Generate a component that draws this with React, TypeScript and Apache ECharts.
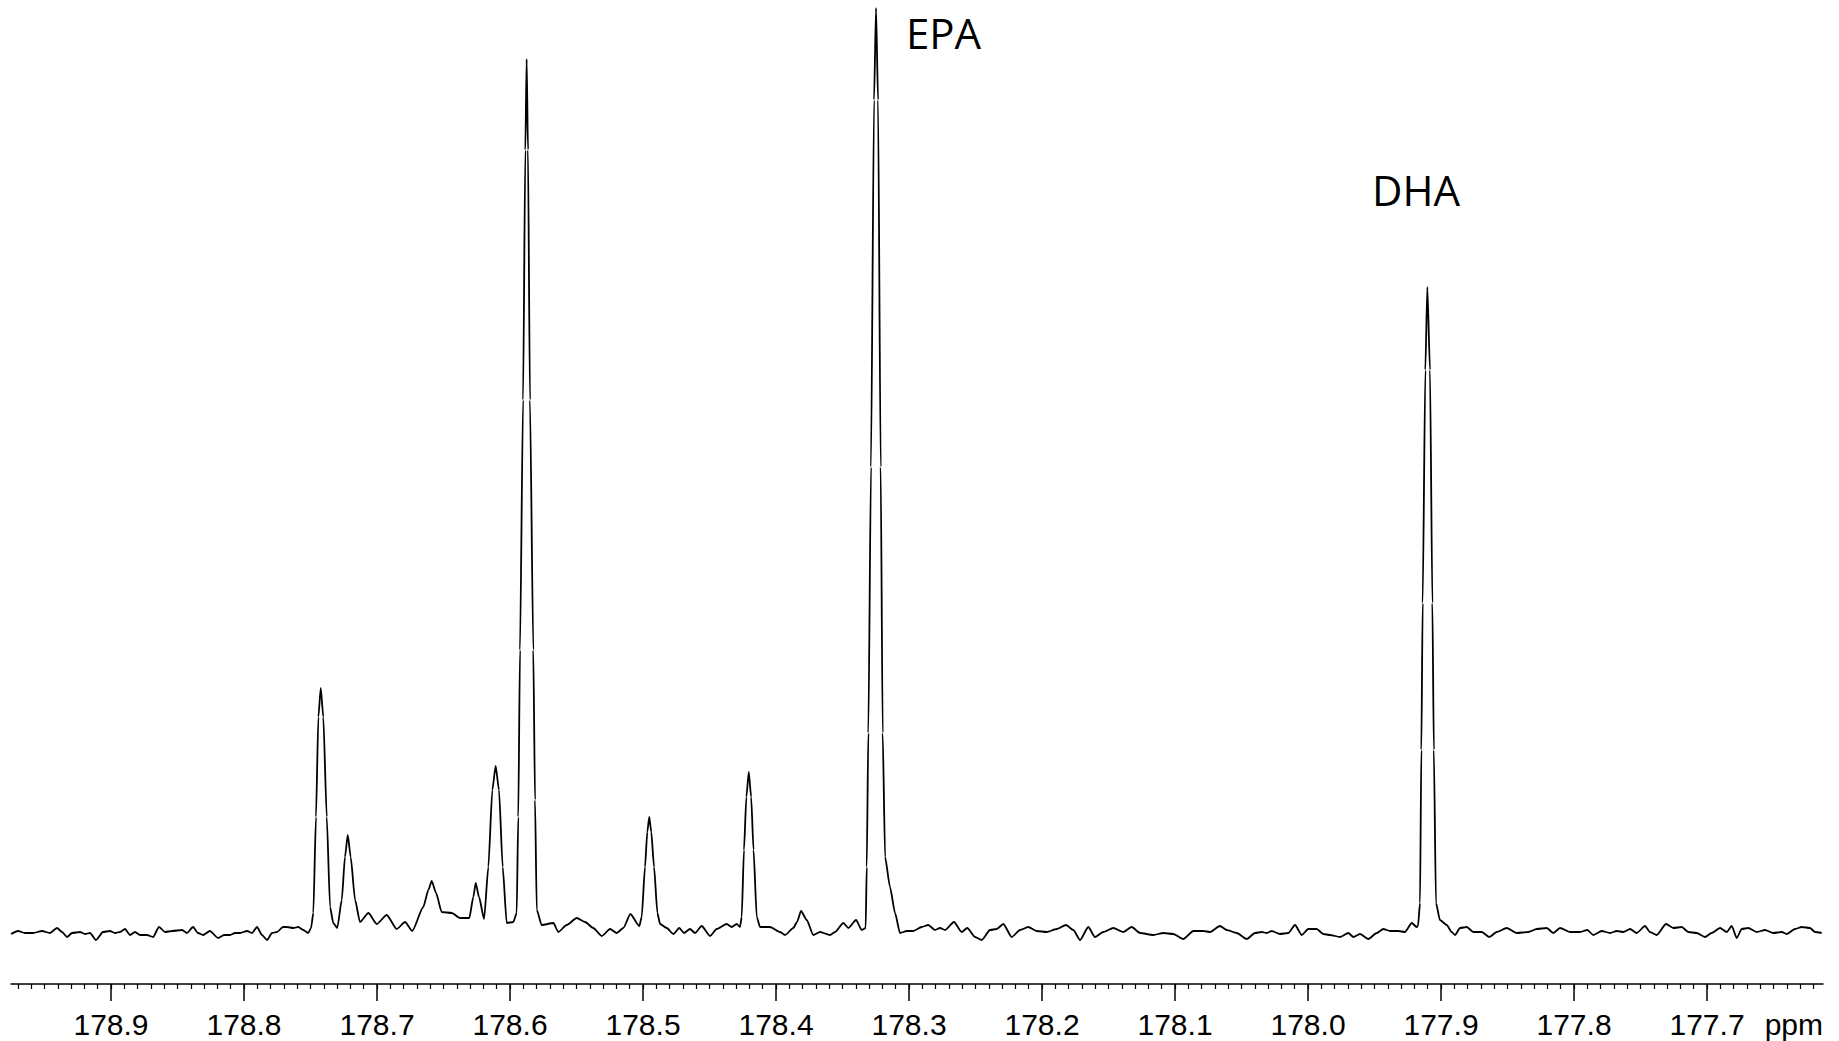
import React, { useEffect, useRef } from "react";
import * as echarts from "echarts";

// [chemical shift (ppm), intensity (a.u.)]
const leftBaseline: [number, number][] = [
  [178.9752, -2], [178.9699, 1], [178.9647, -1], [178.9586, -1], [178.9519, 1], [178.9459, -1],
  [178.9406, 4], [178.9368, 0], [178.9331, -5], [178.9293, -1], [178.9233, 0], [178.9195, -2],
  [178.9158, -1], [178.9113, -8], [178.906, 0], [178.9008, 1], [178.897, -1], [178.8932, 0],
  [178.8895, 3], [178.8857, -3], [178.882, 0], [178.8782, -3], [178.8729, -3], [178.8684, -5],
  [178.8639, 5], [178.8594, 0], [178.8541, 1], [178.8466, 2], [178.8429, -1], [178.8383, 5],
  [178.8346, -1], [178.8308, -3], [178.8256, 1], [178.8195, -6], [178.815, -3], [178.8105, -3],
  [178.8068, -1], [178.803, -1], [178.7977, 1], [178.794, -1], [178.7902, 5], [178.7865, -3],
  [178.7827, -8], [178.7789, -1], [178.7752, 0], [178.7707, 5], [178.7679, 5], [178.7629, 4],
  [178.7592, 5], [178.7554, 2], [178.7517, -1],
];

const peakCluster: [number, number][] = [
  [178.7496, 4], [178.7479, 19], [178.7459, 115], [178.7441, 215], [178.7423, 244], [178.7404, 215],
  [178.7378, 115], [178.7353, 25], [178.7329, 9], [178.7299, 4],
  [178.7265, 32], [178.7241, 75], [178.722, 97], [178.7198, 75], [178.7165, 32], [178.7128, 10],
  [178.7065, 19], [178.7002, 8], [178.6927, 17], [178.6852, 3], [178.6789, 10], [178.6735, 1],
  [178.6652, 25], [178.6614, 42], [178.6589, 51], [178.6556, 39], [178.6514, 20], [178.6438, 19],
  [178.6376, 14], [178.6306, 14],
  [178.6276, 35], [178.6258, 49], [178.6233, 35], [178.6195, 13],
  [178.6163, 65], [178.6133, 142], [178.6108, 166], [178.6083, 142], [178.6055, 65], [178.6025, 9],
  [178.5975, 10], [178.595, 19],
  [178.5938, 115], [178.5925, 282], [178.5902, 532], [178.5885, 782], [178.5875, 873], [178.5865, 782],
  [178.585, 532], [178.5825, 282], [178.5812, 132], [178.5799, 22], [178.5762, 7],
];

const middleRegion: [number, number][] = [
  [178.5674, 9], [178.5637, 0], [178.5574, 7], [178.5498, 14], [178.5436, 10], [178.5374, 4],
  [178.531, -4], [178.5248, 3], [178.5198, -1], [178.5148, 4], [178.5095, 18], [178.5028, 6],
  [178.501, 15], [178.4985, 65], [178.4968, 100], [178.4953, 115], [178.4938, 100], [178.4917, 65],
  [178.4892, 19], [178.4872, 8],
  [178.4822, 4], [178.4772, -2], [178.4727, 4], [178.4692, -1], [178.4647, 3], [178.4609, -1],
  [178.4559, 6], [178.4496, -4], [178.4446, 3], [178.4371, 8], [178.4333, 5], [178.4296, 8], [178.4271, 5],
  [178.4258, 15], [178.4241, 82], [178.4223, 135], [178.4205, 160], [178.4187, 135], [178.4169, 82],
  [178.4145, 15], [178.412, 5],
  [178.4045, 5], [178.397, 0], [178.3932, -3], [178.387, 4], [178.3842, 10], [178.3812, 21],
  [178.3769, 12], [178.372, -3], [178.3669, 0], [178.3594, -3], [178.3556, 0], [178.3494, 9],
  [178.3456, 4], [178.3398, 12], [178.3356, 2],
];

const epaRegion: [number, number][] = [
  [178.3326, 4], [178.3318, 65], [178.3306, 199], [178.3286, 465], [178.3263, 832], [178.3248, 924],
  [178.3233, 832], [178.3213, 465], [178.3198, 199], [178.318, 75], [178.3143, 45], [178.3105, 19],
  [178.3068, -1],
];

const centralBaseline: [number, number][] = [
  [178.3017, 1], [178.2968, 1], [178.2905, 5], [178.2855, 7], [178.2805, 2], [178.2767, 4],
  [178.2729, 2], [178.2662, 10], [178.2604, 0], [178.2562, 4], [178.2504, -5], [178.2453, -8],
  [178.2391, 2], [178.2341, 3], [178.2291, 8], [178.2228, -5], [178.2165, 2], [178.2103, 5],
  [178.204, 1], [178.1965, 0], [178.1889, 3], [178.182, 7], [178.1765, 2], [178.1714, -8],
  [178.1652, 5], [178.1602, -5], [178.1539, 0], [178.1464, 4], [178.1389, 0], [178.1326, 5],
  [178.1263, -1], [178.1163, -3], [178.1088, -1], [178.1013, -2], [178.0938, -7], [178.0862, 1],
  [178.0787, 1], [178.0737, 0], [178.0662, 6], [178.0611, 2], [178.0536, -1], [178.0461, -7],
  [178.0398, -1], [178.0348, 0], [178.031, -1], [178.0273, 1], [178.0211, -2], [178.0148, -1],
  [178.0098, 7], [178.0047, -3], [177.9998, 3], [177.9935, 3], [177.9885, -2], [177.9835, -3],
  [177.9759, -5], [177.9697, -1], [177.9659, -5], [177.9609, -2], [177.9547, -7], [177.9483, -1],
  [177.9434, 3], [177.9383, 1], [177.9321, 1], [177.9271, 0], [177.922, 9], [177.9183, 5],
];

const dhaRegion: [number, number][] = [
  [177.9173, 6], [177.9158, 29], [177.9148, 182], [177.9138, 329], [177.9118, 562], [177.9103, 645],
  [177.9083, 562], [177.9065, 329], [177.9054, 182], [177.9038, 29], [177.9008, 12],
];

const rightBaseline: [number, number][] = [
  [177.8957, 7], [177.892, 0], [177.8895, -3], [177.8857, 4], [177.8807, 5], [177.8757, 0],
  [177.8694, 0], [177.8637, -5], [177.8581, 0], [177.8506, 4], [177.8431, -1], [177.8344, 0],
  [177.828, 3], [177.8205, 4], [177.8156, -1], [177.8105, 4], [177.803, 0], [177.7955, 0],
  [177.79, 2], [177.7855, -3], [177.7792, 1], [177.7729, -1], [177.7679, 1], [177.7629, 0],
  [177.7579, 3], [177.7529, -1], [177.7466, 6], [177.7429, 0], [177.7378, -3], [177.7308, 8],
  [177.7253, 4], [177.719, 5], [177.7141, 0], [177.7077, -1], [177.7015, -5], [177.6965, -1],
  [177.6902, 4], [177.6852, 0], [177.6814, 6], [177.6777, -6], [177.6739, 3], [177.669, 4],
  [177.6626, 0], [177.6564, 2], [177.6502, -1], [177.6438, 0], [177.6401, -2], [177.6338, 3],
  [177.6288, 5], [177.6226, 4], [177.6188, 0], [177.6138, -1],
];

const majorTicks = [178.9, 178.8, 178.7, 178.6, 178.5, 178.4, 178.3, 178.2, 178.1, 178.0, 177.9, 177.8, 177.7];
const minorTicks: number[] = [];
for (let k = 17762; k <= 17897; k++) minorTicks.push(k / 100);

const peakLabels = ["EPA", "DHA"];
const unitLabel = "ppm";

const X_MIN = 177.6128;
const X_MAX = 178.9752;
const Y_MIN = -52;
const Y_MAX = 932;

export default function App() {
  const ref = useRef<HTMLDivElement>(null);
  useEffect(() => {
    document.body.style.margin = "0";
    const chart = echarts.init(ref.current as HTMLDivElement, null, { renderer: "svg" });
    const spectrum = [
      ...leftBaseline,
      ...peakCluster,
      ...middleRegion,
      ...epaRegion,
      ...centralBaseline,
      ...dhaRegion,
      ...rightBaseline,
    ];
    const black = "#000000";
    chart.setOption({
      animation: false,
      backgroundColor: "#ffffff",
      grid: { left: 11, right: 16, top: 0, bottom: 57, containLabel: false },
      xAxis: [
        {
          type: "value",
          min: X_MIN,
          max: X_MAX,
          inverse: true,
          position: "bottom",
          axisLine: { show: true, onZero: false, lineStyle: { color: black, width: 1.5 } },
          axisTick: { show: true, customValues: majorTicks, length: 17, lineStyle: { color: black, width: 1.5 } },
          axisLabel: {
            show: true,
            customValues: majorTicks,
            formatter: (v: number) => v.toFixed(1),
            fontSize: 30,
            fontFamily: "'Liberation Sans', Arial, sans-serif",
            color: black,
            margin: 25,
          },
          splitLine: { show: false },
        },
        {
          type: "value",
          min: X_MIN,
          max: X_MAX,
          inverse: true,
          position: "bottom",
          gridIndex: 0,
          axisLine: { show: false, onZero: false },
          axisTick: { show: true, customValues: minorTicks, length: 5, lineStyle: { color: black, width: 1.2 } },
          axisLabel: { show: false },
          splitLine: { show: false },
        },
      ],
      yAxis: { type: "value", min: Y_MIN, max: Y_MAX, show: false },
      series: [
        {
          type: "line",
          xAxisIndex: 0,
          data: spectrum,
          symbol: "none",
          showSymbol: false,
          smooth: 0.2,
          smoothMonotone: "x",
          lineStyle: { color: black, width: 1.8 },
        },
      ],
      graphic: [
        {
          type: "text",
          x: 906,
          y: 32,
          style: {
            text: peakLabels[0],
            fontSize: 42,
            fontFamily: "'Open Sans', sans-serif",
            fill: black,
            align: "left",
            verticalAlign: "middle",
          },
        },
        {
          type: "text",
          x: 1372,
          y: 189,
          style: {
            text: peakLabels[1],
            fontSize: 42,
            fontFamily: "'Open Sans', sans-serif",
            fill: black,
            align: "left",
            verticalAlign: "middle",
          },
        },
        {
          type: "text",
          x: 1823,
          y: 1024,
          style: {
            text: unitLabel,
            fontSize: 30,
            fontFamily: "'Liberation Sans', Arial, sans-serif",
            fill: black,
            align: "right",
            verticalAlign: "middle",
          },
        },
      ],
    });
    return () => chart.dispose();
  }, []);
  return (
    <div
      ref={ref}
      style={{ position: "absolute", left: 0, top: 0, width: 1839, height: 1041, background: "#ffffff" }}
    />
  );
}
